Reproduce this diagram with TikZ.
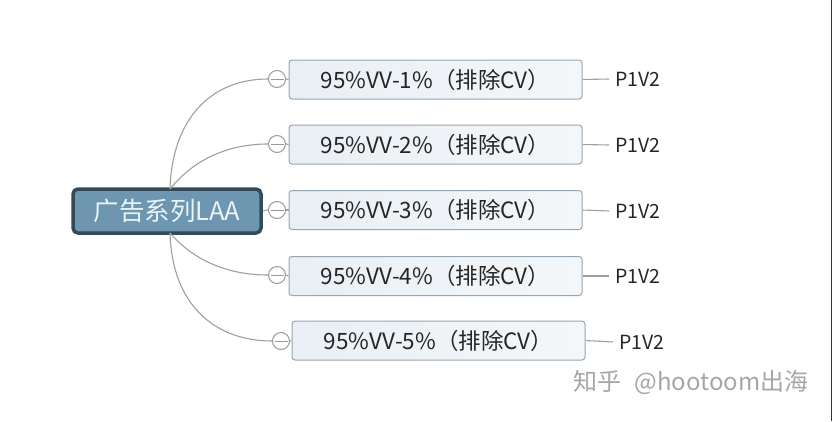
\documentclass[tikz,border=0pt]{standalone}
\usepackage{fontspec}
\setmainfont{Noto Sans CJK SC}
\begin{document}
\begin{tikzpicture}[x=1pt,y=-1pt,
  rootbox/.style={draw=rootborder, line width=3.5pt, fill=rootfill, rounded corners=5pt,
    minimum width=188pt, minimum height=44pt, text=roottext, font=\fontsize{25.5}{28}\selectfont, inner sep=0pt},
  childbox/.style={draw=boxborder, line width=1pt, left color=boxfillA, right color=boxfillB, rounded corners=3pt,
    minimum width=293pt, minimum height=39pt, font=\fontsize{22.5}{25}\selectfont, text=black!85, inner sep=0pt},
  knob/.style={circle, draw=knobgray, line width=1pt, fill=white, minimum size=17pt, inner sep=0pt,
    path picture={\draw[knobgray, line width=1pt] ([xshift=2pt]path picture bounding box.west) -- ([xshift=-2pt]path picture bounding box.east);}},
  conn/.style={draw=linegray, line width=1.1pt},
  tag/.style={font=\fontsize{19.5}{22}\selectfont, text=black!85, inner sep=0pt, anchor=west},
]
\definecolor{rootborder}{HTML}{354A58}
\definecolor{rootfill}{HTML}{6E96B1}
\definecolor{roottext}{HTML}{E8F5F8}
\definecolor{boxborder}{HTML}{98A6B2}
\definecolor{boxfillA}{HTML}{E9EFF4}
\definecolor{boxfillB}{HTML}{F4F7F9}
\definecolor{knobgray}{HTML}{9A9A9A}
\definecolor{linegray}{HTML}{A0A0A0}
\useasboundingbox[fill=white] (0,0) rectangle (832,421);
\draw[black!80, line width=1pt] (831.5,0) -- (831.5,421);

% root
\node[rootbox] (root) at (167,211) {广告系列LAA};
\coordinate (rt) at (170,189);
\coordinate (rb) at (170,233);

% knobs
\node[knob] (k1) at (277,79) {};
\node[knob] (k2) at (277,144) {};
\node[knob] (k3) at (277,210) {};
\node[knob] (k4) at (277,275) {};
\node[knob] (k5) at (281,341) {};

% children
\node[childbox] (c1) at (435.5,79.5) {95\%VV-1\%（排除CV）};
\node[childbox] (c2) at (435.5,144.5) {95\%VV-2\%（排除CV）};
\node[childbox] (c3) at (435.5,210) {95\%VV-3\%（排除CV）};
\node[childbox] (c4) at (435.5,276) {95\%VV-4\%（排除CV）};
\node[childbox] (c5) at (438.5,340.5) {95\%VV-5\%（排除CV）};

% tags
\node[tag] (p1) at (615,79) {P1V2};
\node[tag] (p2) at (615,145) {P1V2};
\node[tag] (p3) at (615,211) {P1V2};
\node[tag] (p4) at (615,276) {P1V2};
\node[tag] (p5) at (619,342) {P1V2};

% curves root -> knobs
\draw[conn] (rt) .. controls (172,120) and (210,79) .. (k1.west);
\draw[conn] (rt) .. controls (195,158) and (230,144) .. (k2.west);
\draw[conn] (root.east) -- (k3.west);
\draw[conn] (rb) .. controls (195,262) and (230,275) .. (k4.west);
\draw[conn] (rb) .. controls (172,305) and (215,341) .. (k5.west);

% knob -> box
\foreach \i in {1,...,5} {
  \draw[conn] (k\i.east) -- (c\i.west);
  \draw[conn] (c\i.east) -- ([xshift=-6pt]p\i.west);
}

% watermark
\node[font=\fontsize{24}{27}\selectfont, text=black!35, anchor=west, inner sep=0pt] (wm) at (573,382) {知乎\hspace{0.55em}@hootoom出海};
\end{tikzpicture}
\end{document}
